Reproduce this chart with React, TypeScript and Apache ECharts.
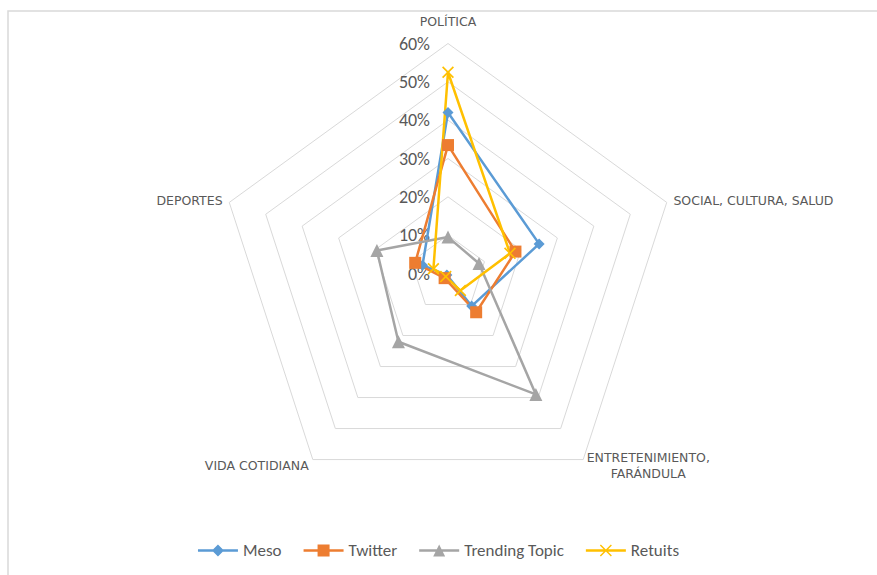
import React, { useEffect, useRef } from "react";
import * as echarts from "echarts";

// Categories in clockwise order starting from the top
const categories = [
  "POLÍTICA",
  "SOCIAL, CULTURA, SALUD",
  "ENTRETENIMIENTO,\nFARÁNDULA",
  "VIDA COTIDIANA",
  "DEPORTES",
];
const seriesNames = ["Meso", "Twitter", "Trending Topic", "Retuits"];
const meso = [42, 25, 10.5, 0.5, 7];
const twitter = [33.5, 18.5, 12.5, 1.5, 9];
const trending = [9.5, 8.5, 39, 22, 19.5];
const retuits = [52.5, 17, 5.5, 1, 4];
const maxValue = 60;
const colors = ["#5B9BD5", "#ED7D31", "#A5A5A5", "#FFC000"];

// ECharts radar places indicators counter-clockwise; reorder to clockwise look
const order = [0, 4, 3, 2, 1];
const reorder = (arr: number[]) => order.map((i) => arr[i]);

const xSymbol =
  "path://M0,1 L1,0 L5,4 L9,0 L10,1 L6,5 L10,9 L9,10 L5,6 L1,10 L0,9 L4,5 Z";
const lineRect = "M0,4.75 L40,4.75 L40,7.25 L0,7.25 Z ";
const legendIcons = [
  "path://" + lineRect + "M20,0 L26,6 L20,12 L14,6 Z",
  "path://" + lineRect + "M14,0 L26,0 L26,12 L14,12 Z",
  "path://" + lineRect + "M20,0 L26,12 L14,12 Z",
  "path://" +
    lineRect +
    "M14,1 L15,0 L20,5 L25,0 L26,1 L21,6 L26,11 L25,12 L20,7 L15,12 L14,11 L19,6 Z",
];

export default function App() {
  const ref = useRef<HTMLDivElement>(null);
  useEffect(() => {
    if (!ref.current) return;
    const chart = echarts.init(ref.current, null, { renderer: "svg" });
    const font = "Calibri, Carlito, Lato, 'Open Sans', sans-serif";
    const indicator = order.map((i, k) => {
      const ind: any = { name: categories[i], max: maxValue, min: 0 };
      if (k === 0) {
        ind.nameGap = 14;
        ind.axisLabel = {
          show: true,
          showMinLabel: true,
          showMaxLabel: true,
          formatter: (v: number) => Math.round(v) + "%",
          color: "#595959",
          fontSize: 18,
          fontFamily: font,
          margin: 18,
        };
      }
      return ind;
    });
    const seriesData = [meso, twitter, trending, retuits];
    const symbols = ["diamond", "rect", "triangle", xSymbol];
    const symbolSizes = [11, 12, 13, 12];
    chart.setOption({
      animation: false,
      backgroundColor: "#ffffff",
      graphic: [
        {
          type: "rect",
          shape: { x: 8, y: 11, width: 1000, height: 1000 },
          style: { fill: "none", stroke: "#d9d9d9", lineWidth: 1.5 },
          silent: true,
        },
      ],
      legend: {
        bottom: 11,
        left: "center",
        itemWidth: 40,
        itemHeight: 12,
        itemGap: 22,
        textStyle: { color: "#595959", fontSize: 17, fontFamily: font },
        data: seriesNames.map((n, i) => ({ name: n, icon: legendIcons[i] })),
      },
      radar: {
        center: [448, 273.5],
        radius: 230,
        startAngle: 90,
        splitNumber: 6,
        shape: "polygon",
        indicator,
        nameGap: 7,
        axisName: {
          color: "#595959",
          fontSize: 12.5,
          lineHeight: 16,
          fontFamily: "'DejaVu Sans', sans-serif",
          formatter: (name: string) =>
            name.indexOf("\n") >= 0
              ? name
                  .split("\n")
                  .map((l) => "{c|" + l + "}")
                  .join("\n")
              : name,
          rich: {
            c: {
              width: 122,
              align: "center",
              fontSize: 12.5,
              lineHeight: 16,
              color: "#595959",
              fontFamily: "'DejaVu Sans', sans-serif",
            },
          },
        },
        axisLine: { show: false },
        axisTick: { show: false },
        axisLabel: { show: false },
        splitLine: { lineStyle: { color: "#d9d9d9", width: 1 } },
        splitArea: { show: false },
      },
      series: [
        {
          type: "radar",
          data: seriesData.map((d, i) => ({
            name: seriesNames[i],
            value: reorder(d),
            symbol: symbols[i],
            symbolSize: symbolSizes[i],
            lineStyle: { color: colors[i], width: 2.5 },
            itemStyle: { color: colors[i] },
          })),
        },
      ],
      color: colors,
    });
    return () => chart.dispose();
  }, []);
  return (
    <div
      ref={ref}
      style={{ position: "absolute", left: 0, top: 0, width: 877, height: 575 }}
    />
  );
}
